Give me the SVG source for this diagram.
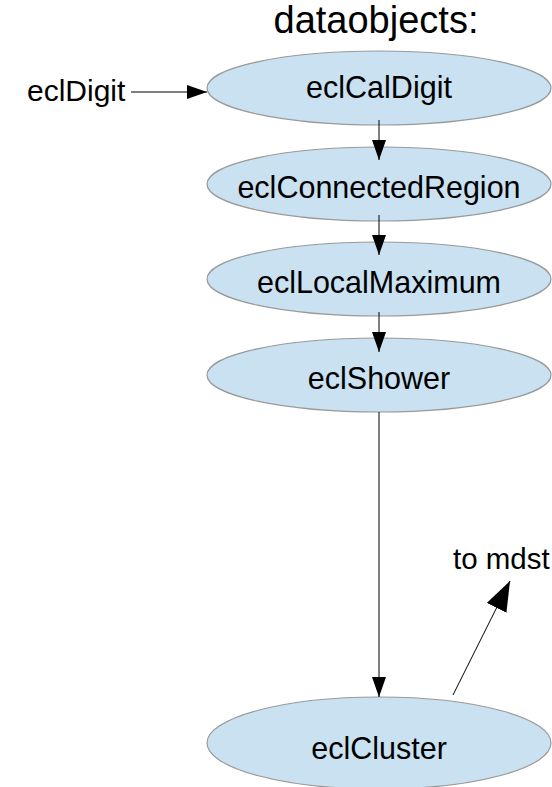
<svg xmlns="http://www.w3.org/2000/svg" width="552" height="787" viewBox="0 0 552 787">
<style>
.node ellipse{fill:#c9e1f1;stroke:#999;stroke-width:1.2}
text{font-family:"Liberation Sans",Arial,sans-serif;fill:#000}
.lbl{font-size:30.5px;text-anchor:middle}
.edge{stroke:#000;stroke-width:1;fill:none}
</style>
<defs>
<marker id="ah" markerUnits="userSpaceOnUse" markerWidth="20" markerHeight="14" refX="20" refY="7" orient="auto"><path d="M0,0 L20,7 L0,14 Z" fill="#000"/></marker>
<marker id="ahBig" markerUnits="userSpaceOnUse" markerWidth="30" markerHeight="22" refX="30" refY="11" orient="auto"><path d="M0,0 L30,11 L0,22 Z" fill="#000"/></marker>
</defs>
<rect width="552" height="787" fill="#fff"/>
<text id="title" x="376" y="33" style="font-size:38px;text-anchor:middle">dataobjects:</text>
<g id="n-eclDigit"><text x="27" y="101" style="font-size:30px">eclDigit</text></g>
<g id="n-eclCalDigit" class="node"><ellipse cx="379" cy="88" rx="172" ry="37"/><text class="lbl" x="379" y="98">eclCalDigit</text></g>
<g id="n-eclConnectedRegion" class="node"><ellipse cx="379" cy="184" rx="172" ry="37"/><text class="lbl" x="379" y="198">eclConnectedRegion</text></g>
<g id="n-eclLocalMaximum" class="node"><ellipse cx="379" cy="279" rx="172" ry="37"/><text class="lbl" x="379" y="293">eclLocalMaximum</text></g>
<g id="n-eclShower" class="node"><ellipse cx="379" cy="375" rx="172" ry="37"/><text class="lbl" x="379" y="389">eclShower</text></g>
<g id="n-eclCluster" class="node"><ellipse cx="379" cy="743" rx="172" ry="46"/><text class="lbl" x="379" y="759">eclCluster</text></g>
<g id="n-mdst"><text x="453" y="569" style="font-size:29.5px">to mdst</text></g>
<g id="edges">
<line class="edge" x1="131" y1="92" x2="207" y2="92" marker-end="url(#ah)"/>
<line class="edge" x1="379" y1="120" x2="379" y2="160" marker-end="url(#ah)"/>
<line class="edge" x1="379" y1="215" x2="379" y2="255" marker-end="url(#ah)"/>
<line class="edge" x1="379" y1="312" x2="379" y2="352" marker-end="url(#ah)"/>
<line class="edge" x1="379" y1="412" x2="379" y2="697" marker-end="url(#ah)"/>
<line class="edge" x1="453" y1="695" x2="510" y2="581" marker-end="url(#ahBig)"/>
</g>
</svg>
